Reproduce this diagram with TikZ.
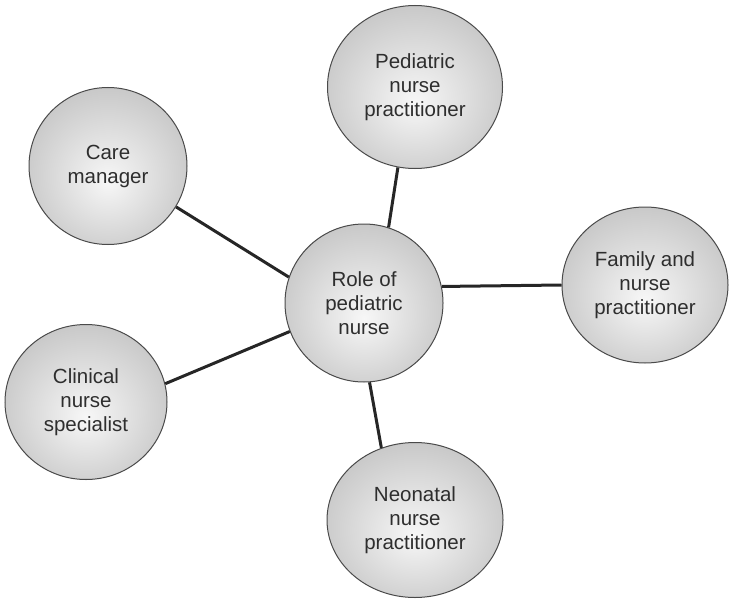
\documentclass[tikz,border=0pt]{standalone}
\usepackage{fontspec}
\setmainfont{Liberation Sans}
\usetikzlibrary{shapes.geometric}
\definecolor{rimgray}{HTML}{4A4A4A}
\definecolor{textgray}{HTML}{2E2E2E}
\definecolor{shadeA}{HTML}{F7F7F7}
\definecolor{shadeB}{HTML}{E6E6E6}
\definecolor{shadeC}{HTML}{A2A2A2}
\pgfdeclareradialshading{bubbleshade}{\pgfpoint{0bp}{-5bp}}{%
  color(0bp)=(shadeA); color(10bp)=(shadeB); color(50bp)=(shadeC)}
\tikzset{
  bubble/.style={ellipse, draw=rimgray, line width=1pt, inner sep=0pt,
    shading=bubbleshade, text=textgray,
    align=center, font=\fontsize{20.5}{24}\selectfont},
  link/.style={line width=3pt, draw=black!85}
}
\begin{document}
\begin{tikzpicture}[x=1pt,y=-1pt]
\useasboundingbox (0,0) rectangle (730,599);
\node[bubble, minimum width=158pt, minimum height=158pt] (C) at (364,303) {Role of\\pediatric\\nurse};
\node[bubble, minimum width=175pt, minimum height=163pt] (P) at (415,87) {Pediatric\\nurse\\practitioner};
\node[bubble, minimum width=158pt, minimum height=157pt] (CM) at (108,166) {Care\\manager};
\node[bubble, minimum width=166pt, minimum height=156pt] (F) at (645,285) {Family and\\nurse\\practitioner};
\node[bubble, minimum width=162pt, minimum height=155pt] (CN) at (86,402) {Clinical\\nurse\\specialist};
\node[bubble, minimum width=176pt, minimum height=155pt] (N) at (415,520) {Neonatal\\nurse\\practitioner};
\draw[link] (C.72) -- (P.258);
\draw[link] (C.161) -- (CM.-31);
\draw[link] (C.12) -- (F.180);
\draw[link] (C.201) -- (CN.13);
\draw[link] (C.-86) -- (N.115);
\end{tikzpicture}
\end{document}
